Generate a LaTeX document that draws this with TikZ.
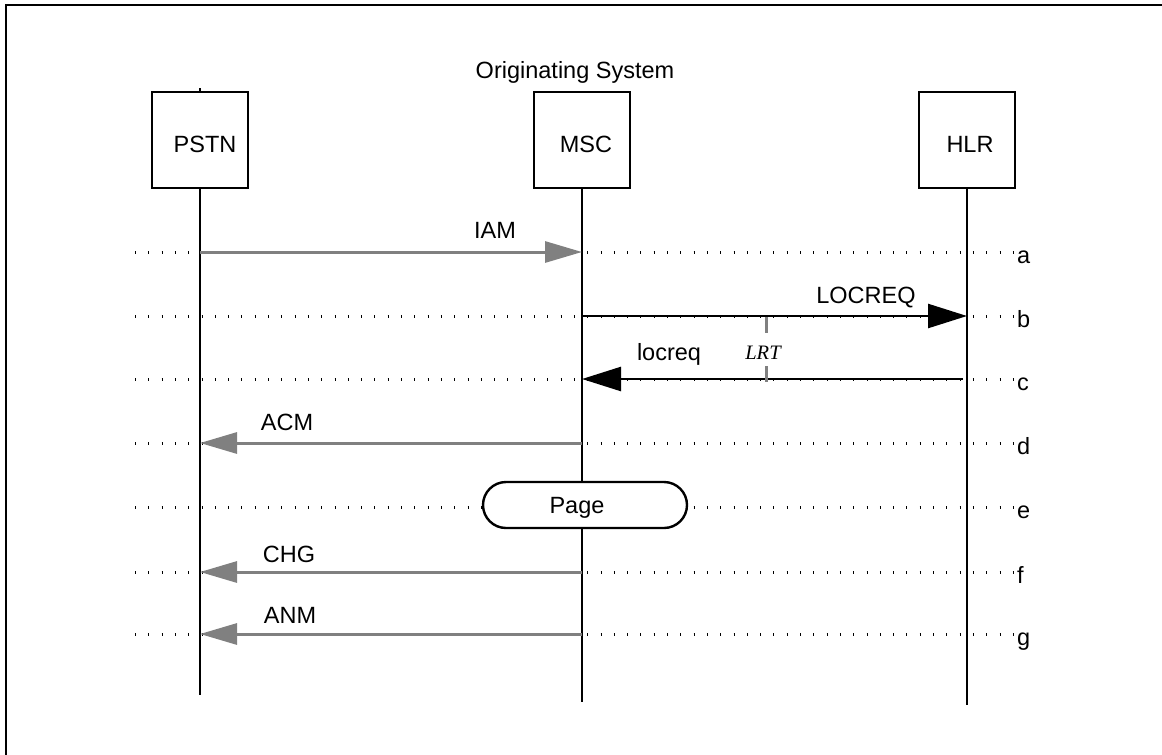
\documentclass[tikz,border=0pt]{standalone}
\usepackage{fontspec}
\setmainfont{Liberation Sans}
\newfontfamily\timerfont{Liberation Serif}
\usetikzlibrary{arrows.meta,shapes.misc}
\definecolor{msggray}{HTML}{808080}
\begin{document}
\begin{tikzpicture}[x=1pt,y=-1pt,
  font=\fontsize{23.5}{28}\selectfont,
  entitybox/.style={draw, line width=2.4pt, minimum width=96pt, minimum height=96pt, inner sep=0pt},
  lifeline/.style={line width=2.4pt},
  rowline/.style={line width=3pt, dash pattern=on 1pt off 12.3pt},
  graymsg/.style={draw=msggray, line width=3pt, -{Triangle[length=37pt,width=21pt]}},
  blackmsg/.style={draw=black, line width=2.5pt, -{Triangle[length=39pt,width=24pt]}},
  timer/.style={draw=msggray, line width=3pt},
  txt/.style={inner sep=0pt, anchor=base},
  rowlbl/.style={inner sep=0pt, anchor=base west},
  actionbox/.style={draw, rounded rectangle, line width=2.4pt, fill=white, minimum width=204pt, minimum height=46pt, inner sep=0pt}
]
\useasboundingbox (0,0) rectangle (1162,755);
% frame (only left and top edges visible)
\draw[line width=2.2pt] (6,755) -- (6,5) -- (1162,5);

% lifeline coordinates
\def\xP{200}\def\xM{582}\def\xH{967}
% rows
\foreach \n/\y in {a/252,b/316,c/379,d/443,e/507,f/572,g/634}{
  \coordinate (L-\n) at (135,\y);
  \coordinate (R-\n) at (1015,\y);
  \coordinate (P-\n) at (\xP,\y);
  \coordinate (M-\n) at (\xM,\y);
  \coordinate (H-\n) at (\xH,\y);
  \draw[rowline] (L-\n) -- (R-\n);
  \node[rowlbl] (lbl-\n) at (1017,\y+11.5) {\n};
}

% title
\node[txt] (title) at (575,78) {Originating System};

% entity boxes
\node[entitybox] (pstn) at (\xP,140) {};
\node[entitybox] (msc) at (\xM,140) {};
\node[entitybox] (hlr) at (\xH,140) {};
\node[txt] (pstntxt) at (205,152) {PSTN};
\node[txt] (msctxt) at (586,152) {MSC};
\node[txt] (hlrtxt) at (970,152) {HLR};

\coordinate (pstn-top) at (\xP,88);
\coordinate (pstn-end) at (\xP,695);
\coordinate (msc-end) at (\xM,702);
\coordinate (hlr-end) at (\xH,705);
\draw[lifeline] (pstn.north) -- (pstn-top);
\draw[lifeline] (pstn.south) -- (pstn-end);
\draw[lifeline] (msc.south) -- (msc-end);
\draw[lifeline] (hlr.south) -- (hlr-end);

% messages
\draw[graymsg] (P-a) -- (M-a);
\node[txt] (iam) at (495,238) {IAM};

\draw[blackmsg] (M-b) -- (H-b);
\node[txt] (locreqA) at (866,303) {LOCREQ};

\draw[blackmsg] ([xshift=-4pt]H-c) -- (M-c);
\node[txt] (locreqB) at (669,360) {locreq};

% timer LRT
\coordinate (t1) at (766,317);
\coordinate (t2) at (766,333);
\coordinate (t3) at (766,366);
\coordinate (t4) at (766,382);
\draw[timer] (t1) -- (t2);
\draw[timer] (t3) -- (t4);
\node[txt, font=\timerfont\itshape\fontsize{20.5}{24}\selectfont] (lrt) at (763,359) {LRT};

\draw[graymsg] (M-d) -- (P-d);
\node[txt] (acm) at (287,430) {ACM};

% Page action
\node[actionbox] (page) at (585,505) {};
\node[txt] (pagetxt) at (577,513) {Page};

\draw[graymsg] (M-f) -- (P-f);
\node[txt] (chg) at (289,562) {CHG};

\draw[graymsg] (M-g) -- (P-g);
\node[txt] (anm) at (290,623) {ANM};
\end{tikzpicture}
\end{document}
